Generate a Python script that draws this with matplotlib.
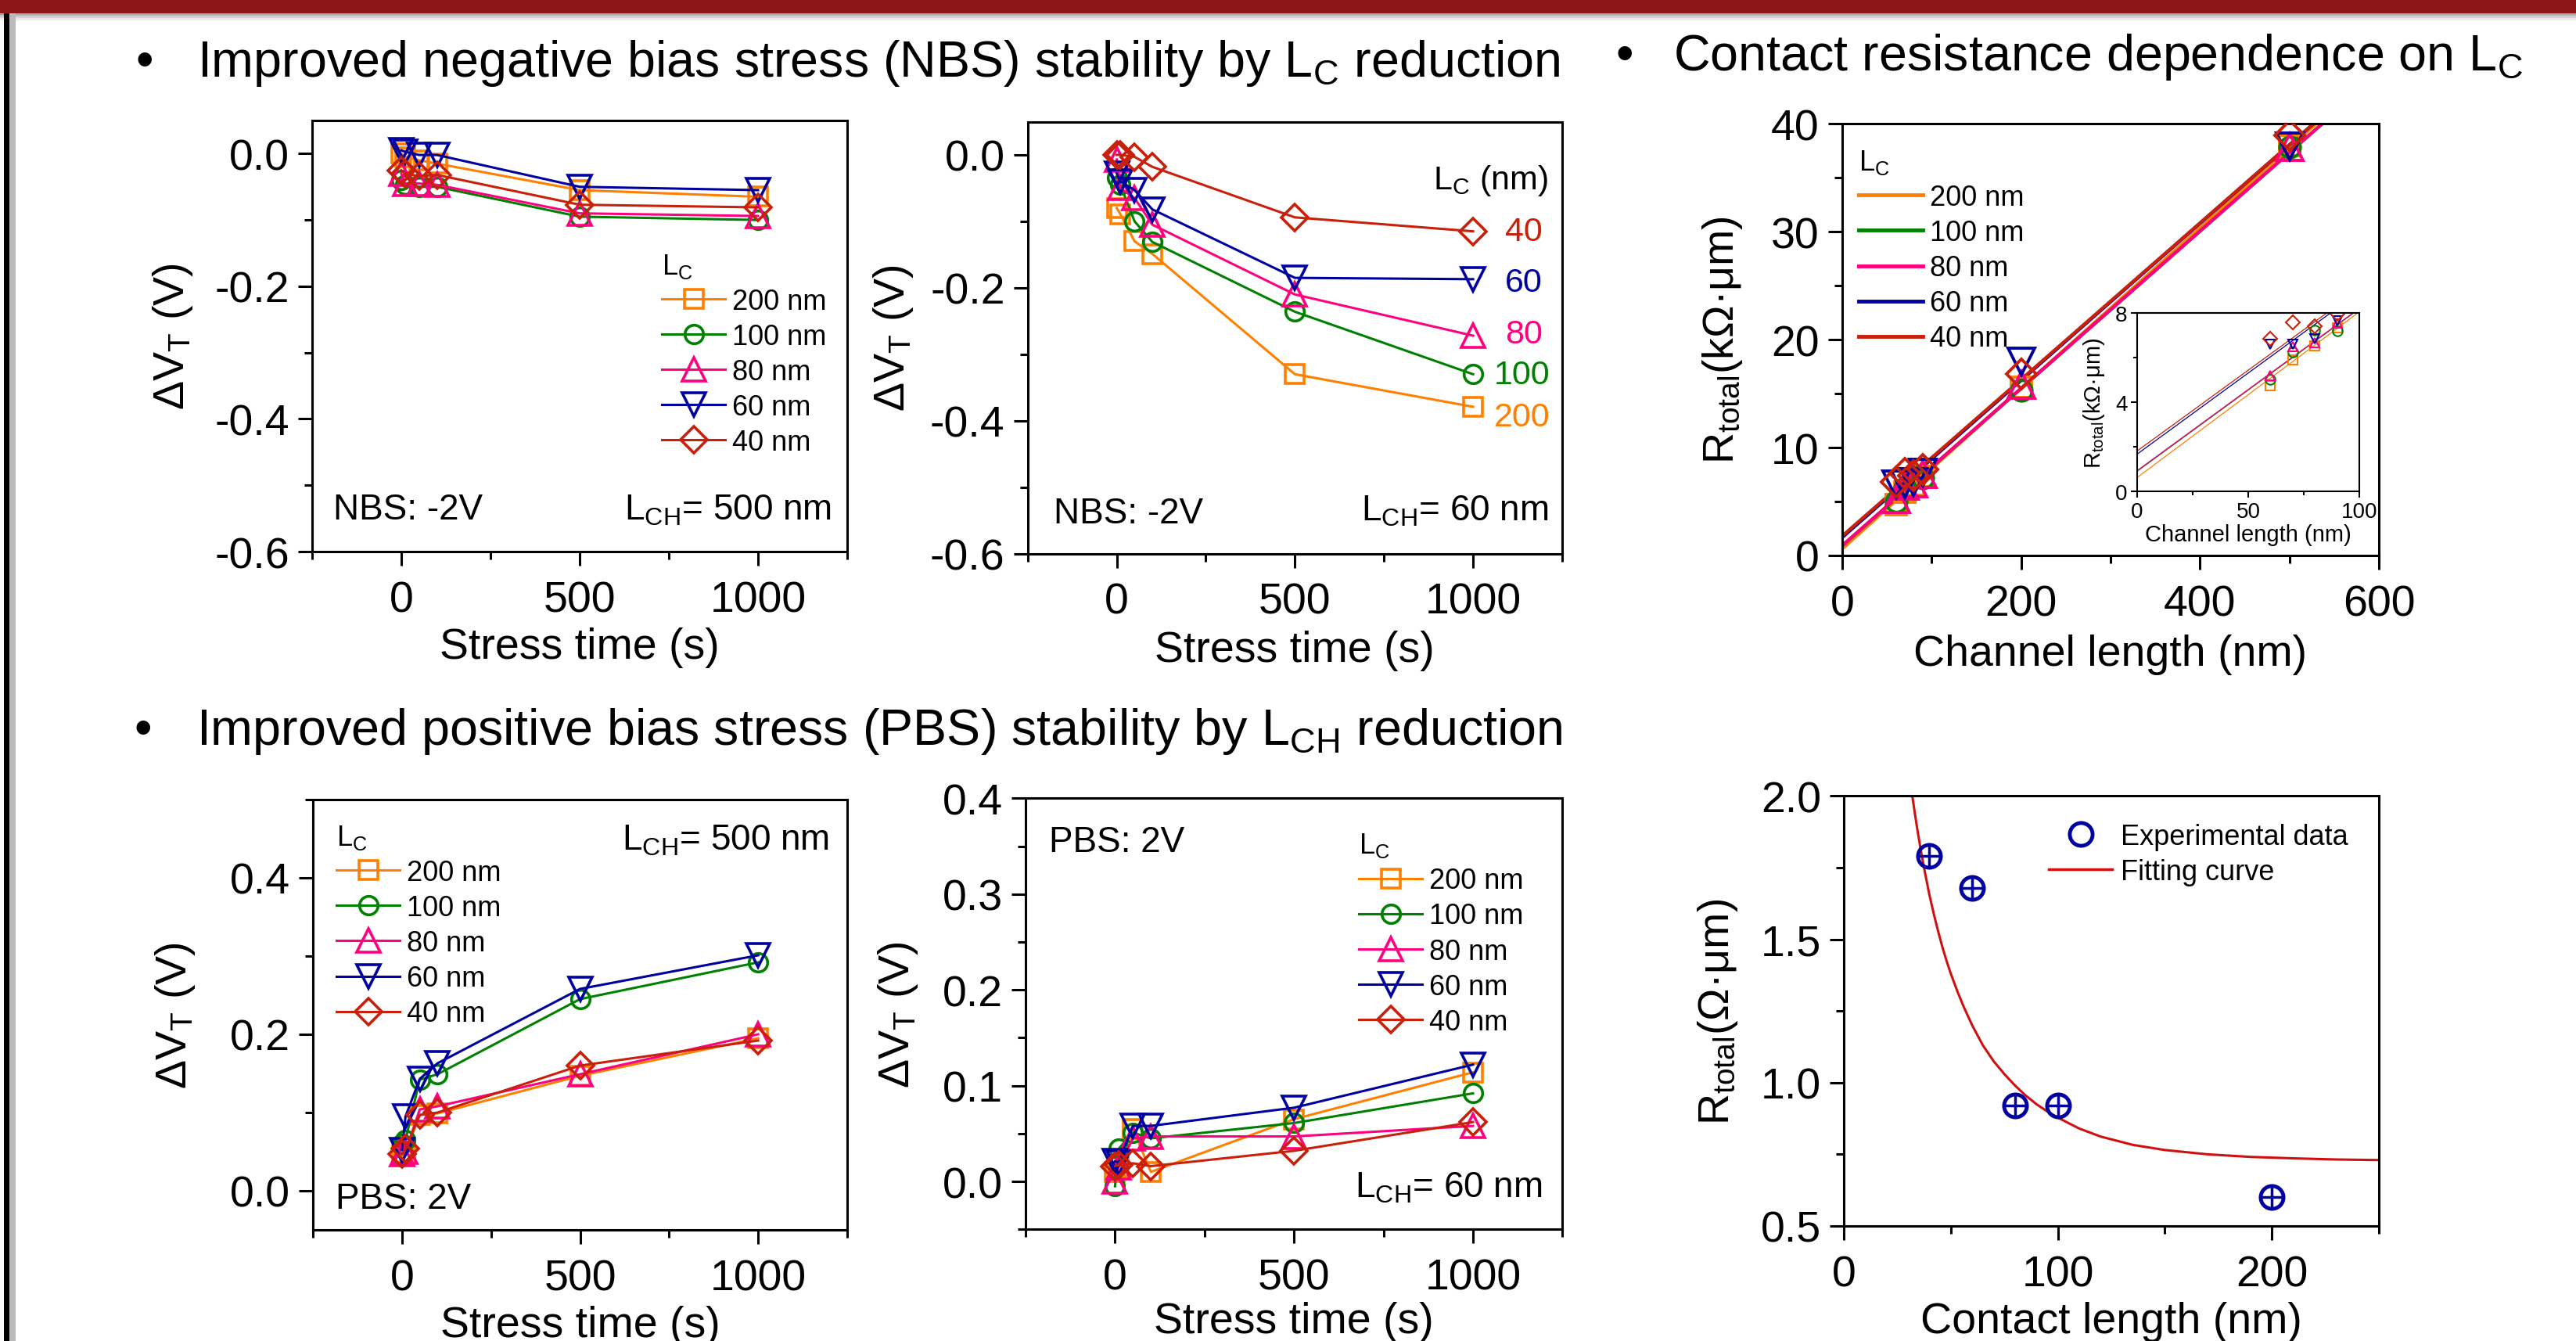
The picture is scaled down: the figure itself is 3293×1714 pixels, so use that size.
import matplotlib
matplotlib.use('Agg')
import matplotlib.pyplot as plt
from matplotlib.ticker import MultipleLocator, FormatStrFormatter
from matplotlib.patches import Rectangle
from matplotlib.lines import Line2D

plt.rcParams['font.family'] = ['Liberation Sans', 'DejaVu Sans']
plt.rcParams['mathtext.fontset'] = 'custom'
plt.rcParams['mathtext.rm'] = 'Liberation Sans'
plt.rcParams['mathtext.it'] = 'Liberation Sans:italic'
plt.rcParams['mathtext.bf'] = 'Liberation Sans:bold'
plt.rcParams['axes.unicode_minus'] = False

# ---------------- data ----------------
lc_labels = ['200 nm', '100 nm', '80 nm', '60 nm', '40 nm']
stress_time = [0, 10, 50, 100, 500, 1000]

# NBS -2V, L_CH = 500 nm  (rows: LC 200, 100, 80, 60, 40 nm)
nbs_500 = [
    [0.000, -0.005, -0.010, -0.015, -0.055, -0.065],
    [-0.040, -0.047, -0.050, -0.050, -0.095, -0.100],
    [-0.030, -0.045, -0.045, -0.047, -0.090, -0.094],
    [0.005, 0.003, -0.002, -0.002, -0.050, -0.055],
    [-0.025, -0.030, -0.034, -0.032, -0.077, -0.081],
]
# NBS -2V, L_CH = 60 nm
nbs_60 = [
    [-0.080, -0.089, -0.130, -0.149, -0.330, -0.379],
    [-0.034, -0.045, -0.100, -0.131, -0.236, -0.330],
    [-0.007, -0.050, -0.065, -0.105, -0.210, -0.272],
    [-0.028, -0.040, -0.053, -0.082, -0.185, -0.187],
    [0.000, 0.000, -0.003, -0.018, -0.094, -0.115],
]
nbs_60_end_labels = ['40', '60', '80', '100', '200']
# PBS 2V, L_CH = 500 nm
pbs_500 = [
    [0.045, 0.049, 0.097, 0.099, 0.147, 0.195],
    [0.060, 0.065, 0.142, 0.149, 0.245, 0.292],
    [0.047, 0.050, 0.104, 0.108, 0.149, 0.200],
    [0.052, 0.095, 0.143, 0.163, 0.258, 0.301],
    [0.047, 0.054, 0.097, 0.100, 0.160, 0.192],
]
# PBS 2V, L_CH = 60 nm
pbs_60 = [
    [0.010, 0.015, 0.055, 0.010, 0.065, 0.114],
    [-0.005, 0.034, 0.051, 0.045, 0.061, 0.092],
    [0.000, 0.015, 0.045, 0.047, 0.047, 0.058],
    [0.021, 0.020, 0.058, 0.058, 0.077, 0.122],
    [0.016, 0.017, 0.019, 0.016, 0.032, 0.062],
]

# R_total vs channel length (kOhm*um)
channel_len = [60, 70, 80, 90, 200, 500]
r_total = [
    [4.73, 5.90, 6.54, 7.35, 15.6, 38.0],
    [5.02, 6.25, 7.24, 7.18, 15.3, 37.8],
    [5.20, 6.48, 6.66, 7.53, 15.8, 37.8],
    [6.60, 6.60, 6.83, 7.65, 18.0, 37.9],
    [6.83, 7.59, 7.42, 7.95, 16.8, 38.9],
]
fit_len_ends = [0, 600]
fit_r_at0 = [0.62, 0.90, 0.93, 1.67, 1.81]
fit_r_at600 = [45.2, 44.6, 44.6, 45.3, 45.3]

# R_total vs contact length (Ohm*um)
contact_len = [40, 60, 80, 100, 200]
contact_res = [1.79, 1.68, 0.92, 0.92, 0.60]
fit_contact_len = [32, 34, 36, 38, 40, 42, 44, 46, 48, 50, 53, 56, 60, 65, 70,
                   75, 80, 85, 90, 95, 100, 110, 120, 135, 150, 170, 190, 210,
                   230, 250]
fit_contact_res = [2.00, 1.90, 1.81, 1.73, 1.655, 1.59, 1.53, 1.475, 1.425,
                   1.38, 1.32, 1.265, 1.20, 1.13, 1.075, 1.03, 0.99, 0.955,
                   0.925, 0.90, 0.878, 0.84, 0.812, 0.783, 0.765, 0.75, 0.741,
                   0.736, 0.732, 0.730]

# ---------------- style ----------------
colors = ['#FF8000', '#008000', '#FF0080', '#0000A0', '#C8200A']
markers = ['s', 'o', '^', 'v', 'D']
msizes = [17, 17, 22, 22, 17]
fit_blue = '#0000A0'
fit_red = '#D01010'

TICK_FS = 40
LAB_FS = 40
LEG_FS = 26

W, H = 3293, 1715
fig = plt.figure(figsize=(W / 100, H / 100), dpi=100)
fig.patch.set_facecolor('white')


def add_ax(l, t, r, b):
    return fig.add_axes([l / W, 1 - b / H, (r - l) / W, (b - t) / H])


def style(ax, xmaj, xmin, ymaj, ymin, yfmt, fs=TICK_FS, lw=2.2, L=13, Lm=7,
          xpad=13, ypad=8):
    for s in ax.spines.values():
        s.set_linewidth(lw)
    ax.xaxis.set_major_locator(MultipleLocator(xmaj))
    ax.xaxis.set_minor_locator(MultipleLocator(xmin))
    ax.yaxis.set_major_locator(MultipleLocator(ymaj))
    ax.yaxis.set_minor_locator(MultipleLocator(ymin))
    ax.yaxis.set_major_formatter(FormatStrFormatter(yfmt))
    ax.tick_params(which='both', direction='out', top=False, right=False,
                   width=lw, labelsize=fs)
    ax.tick_params(axis='x', which='both', pad=xpad)
    ax.tick_params(axis='y', which='both', pad=ypad)
    ax.tick_params(which='major', length=L)
    ax.tick_params(which='minor', length=Lm)


def dvt_panel(ax, data):
    hs = []
    for vals, c, m, ms in zip(data, colors, markers, msizes):
        h, = ax.plot(stress_time, vals, color=c, marker=m, ms=ms, mfc='none',
                     mec=c, mew=2.6, lw=2.2)
        hs.append(h)
    ax.set_xlim(-250, 1250)
    return hs


def lc_legend(ax, hs, x, y):
    ax.legend(hs, lc_labels, title=r'L$_\mathrm{C}$', loc='upper left',
              bbox_to_anchor=(x, y), frameon=False, fontsize=LEG_FS,
              title_fontsize=LEG_FS, handlelength=2.25, handletextpad=0.25,
              labelspacing=0.28, borderpad=0, borderaxespad=0,
              alignment='left')


dvt_label = r'ΔV$_\mathrm{T}$ (V)'

# ---------- top-left ----------
ax1 = add_ax(399, 155, 1083, 706)
hs = dvt_panel(ax1, nbs_500)
ax1.set_ylim(-0.6, 0.05)
style(ax1, 500, 250, 0.2, 0.1, '%.1f')
ax1.set_xlabel('Stress time (s)', fontsize=LAB_FS)
ax1.set_ylabel(dvt_label, fontsize=LAB_FS)
ax1.xaxis.set_label_coords(0.5, -0.174)
ax1.yaxis.set_label_coords(-0.219, 0.5)
lc_legend(ax1, hs, 0.6535, 0.696)
ax1.text(0.039, 0.076, 'NBS: -2V', transform=ax1.transAxes, fontsize=33,
         va='baseline', ha='left')
ax1.text(0.971, 0.076, r'L$_\mathrm{CH}$= 500 nm', transform=ax1.transAxes,
         fontsize=33, va='baseline', ha='right')

# ---------- top-middle ----------
ax2 = add_ax(1313.7, 156.5, 1997, 708.7)
dvt_panel(ax2, nbs_60)
ax2.set_ylim(-0.6, 0.05)
style(ax2, 500, 250, 0.2, 0.1, '%.1f')
ax2.set_xlabel('Stress time (s)', fontsize=LAB_FS)
ax2.set_ylabel(dvt_label, fontsize=LAB_FS)
ax2.xaxis.set_label_coords(0.5, -0.176)
ax2.yaxis.set_label_coords(-0.21, 0.5)
ax2.text(0.0487, 0.072, 'NBS: -2V', transform=ax2.transAxes, fontsize=33,
         va='baseline', ha='left')
ax2.text(0.975, 0.079, r'L$_\mathrm{CH}$= 60 nm', transform=ax2.transAxes,
         fontsize=33, va='baseline', ha='right')
ax2.text(0.759, 0.846, r'L$_\mathrm{C}$ (nm)', transform=ax2.transAxes,
         fontsize=31, va='baseline', ha='left')
end_x = [0.873, 0.873, 0.893, 0.893, 0.893]
end_y = [0.316, 0.414, 0.508, 0.627, 0.745]
for lab, c, xx, yy in zip(nbs_60_end_labels[::-1], colors, end_x, end_y):
    ax2.text(xx, yy, lab, color=c, transform=ax2.transAxes, fontsize=31,
             va='center', ha='left')

# ---------- top-right ----------
ax3 = add_ax(2355, 159, 3041, 711)
for r0, r1, c in zip(fit_r_at0, fit_r_at600, colors):
    ax3.plot(fit_len_ends, [r0, r1], color=c, lw=3.0, zorder=2)
for vals, c, m, ms in zip(r_total, colors, markers, msizes):
    ax3.plot(channel_len, vals, ls='none', marker=m, ms=ms + 2, mfc='none',
             mec=c, mew=2.8, zorder=3)
ax3.set_xlim(0, 600)
ax3.set_ylim(0, 40)
style(ax3, 200, 100, 10, 5, '%d')
ax3.set_xlabel('Channel length (nm)', fontsize=LAB_FS)
ax3.set_ylabel(r'R$_\mathrm{total}$(kΩ·μm)', fontsize=LAB_FS)
ax3.xaxis.set_label_coords(0.5, -0.181)
ax3.yaxis.set_label_coords(-0.182, 0.5)
lh = [Line2D([], [], color=c, lw=3.5) for c in colors]
ax3.legend(lh, lc_labels, title=r'L$_\mathrm{C}$', loc='upper left',
           bbox_to_anchor=(0.031, 0.944), frameon=False, fontsize=LEG_FS,
           title_fontsize=LEG_FS, handlelength=2.25, handletextpad=0.25,
           labelspacing=0.28, borderpad=0, borderaxespad=0, alignment='left')

# inset
axi = add_ax(2732, 401, 3016, 629)
axi.set_facecolor('white')
for r0, r1, c in zip(fit_r_at0, fit_r_at600, colors):
    axi.plot(fit_len_ends, [r0, r1], color=c, lw=0.9)
for vals, c, m in zip(r_total, colors, markers):
    axi.plot(channel_len, vals, ls='none', marker=m, ms=9, mfc='none', mec=c,
             mew=1.5)
axi.set_xlim(0, 100)
axi.set_ylim(0, 8)
style(axi, 50, 25, 4, 2, '%d', fs=20, lw=1.5, L=6, Lm=3.5, xpad=3, ypad=3)
axi.set_xlabel('Channel length (nm)', fontsize=21)
axi.set_ylabel(r'R$_\mathrm{total}$(kΩ·μm)', fontsize=21)
axi.xaxis.set_label_coords(0.5, -0.18)
axi.yaxis.set_label_coords(-0.137, 0.5)

# ---------- bottom-left ----------
ax4 = add_ax(400, 1023, 1083, 1573)
hs = dvt_panel(ax4, pbs_500)
ax4.set_ylim(-0.05, 0.5)
style(ax4, 500, 250, 0.2, 0.1, '%.1f')
ax4.set_xlabel('Stress time (s)', fontsize=LAB_FS)
ax4.set_ylabel(dvt_label, fontsize=LAB_FS)
ax4.xaxis.set_label_coords(0.5, -0.175)
ax4.yaxis.set_label_coords(-0.217, 0.5)
lc_legend(ax4, hs, 0.044, 0.946)
ax4.text(0.966, 0.884, r'L$_\mathrm{CH}$= 500 nm', transform=ax4.transAxes,
         fontsize=33, va='baseline', ha='right')
ax4.text(0.042, 0.051, 'PBS: 2V', transform=ax4.transAxes, fontsize=33,
         va='baseline', ha='left')

# ---------- bottom-middle ----------
ax5 = add_ax(1311, 1021.4, 1997.4, 1572.3)
hs = dvt_panel(ax5, pbs_60)
ax5.set_ylim(-0.05, 0.4)
style(ax5, 500, 250, 0.1, 0.05, '%.1f')
ax5.set_xlabel('Stress time (s)', fontsize=LAB_FS)
ax5.set_ylabel(dvt_label, fontsize=LAB_FS)
ax5.xaxis.set_label_coords(0.5, -0.167)
ax5.yaxis.set_label_coords(-0.197, 0.5)
lc_legend(ax5, hs, 0.6206, 0.924)
ax5.text(0.0437, 0.877, 'PBS: 2V', transform=ax5.transAxes, fontsize=33,
         va='baseline', ha='left')
ax5.text(0.962, 0.075, r'L$_\mathrm{CH}$= 60 nm', transform=ax5.transAxes,
         fontsize=33, va='baseline', ha='right')

# ---------- bottom-right ----------
ax6 = add_ax(2357, 1018.4, 3041, 1568)
ax6.plot(fit_contact_len, fit_contact_res, color=fit_red, lw=2.2, zorder=2)
ax6.plot(contact_len, contact_res, ls='none', marker='o', ms=21, mfc='none',
         mec=fit_blue, mew=3.5, zorder=3)
ax6.plot(contact_len, contact_res, ls='none', marker='+', ms=21, mec=fit_blue,
         mew=2.5, zorder=3)
ax6.set_xlim(0, 250)
ax6.set_ylim(0.5, 2.0)
style(ax6, 100, 50, 0.5, 0.25, '%.1f')
ax6.set_xlabel('Contact length (nm)', fontsize=LAB_FS)
ax6.set_ylabel(r'R$_\mathrm{total}$(Ω·μm)', fontsize=LAB_FS)
ax6.xaxis.set_label_coords(0.5, -0.175)
ax6.yaxis.set_label_coords(-0.194, 0.5)
lh6 = [Line2D([], [], ls='none', marker='o', ms=21, mfc='none', mec=fit_blue,
              mew=3.5),
       Line2D([], [], color=fit_red, lw=2.5)]
ax6.legend(lh6, ['Experimental data', 'Fitting curve'], loc='upper left',
           bbox_to_anchor=(0.383, 0.937), frameon=False, fontsize=LEG_FS,
           handlelength=2.25, handletextpad=0.3, labelspacing=0.28,
           borderpad=0, borderaxespad=0)

# ---------- slide decorations and headings ----------
fig.patches.append(Rectangle((0, 1 - 18 / H), 1, 18 / H, transform=fig.transFigure,
                             facecolor='#8C1618', edgecolor='none', zorder=5))
for i, a in enumerate([0.35, 0.25, 0.16, 0.09, 0.04]):
    fig.patches.append(Rectangle((0, 1 - (20 + 2 * i) / H), 1, 2 / H,
                                 transform=fig.transFigure, facecolor='black',
                                 alpha=a, edgecolor='none', zorder=4))
fig.patches.append(Rectangle((5 / W, 0), 7 / W, 1 - 18 / H, transform=fig.transFigure,
                             facecolor='black', edgecolor='none', zorder=4))
fig.patches.append(Rectangle((12 / W, 0), 8 / W, 1 - 18 / H, transform=fig.transFigure,
                             facecolor='#BBBBBB', edgecolor='none', zorder=4))

hfs = 46.5
fig.text(174 / W, 1 - 98 / H, '•', fontsize=hfs, va='baseline', ha='left')
fig.text(252 / W, 1 - 98 / H,
         r'Improved negative bias stress (NBS) stability by L$_\mathrm{C}$ reduction',
         fontsize=hfs, va='baseline', ha='left')
fig.text(2065 / W, 1 - 90 / H, '•', fontsize=hfs, va='baseline', ha='left')
fig.text(2139 / W, 1 - 90 / H, r'Contact resistance dependence on L$_\mathrm{C}$',
         fontsize=hfs, va='baseline', ha='left')
fig.text(172 / W, 1 - 952 / H, '•', fontsize=hfs, va='baseline', ha='left')
fig.text(251 / W, 1 - 952 / H,
         r'Improved positive bias stress (PBS) stability by L$_\mathrm{CH}$ reduction',
         fontsize=hfs, va='baseline', ha='left')

fig.savefig('out.png', dpi=100)
